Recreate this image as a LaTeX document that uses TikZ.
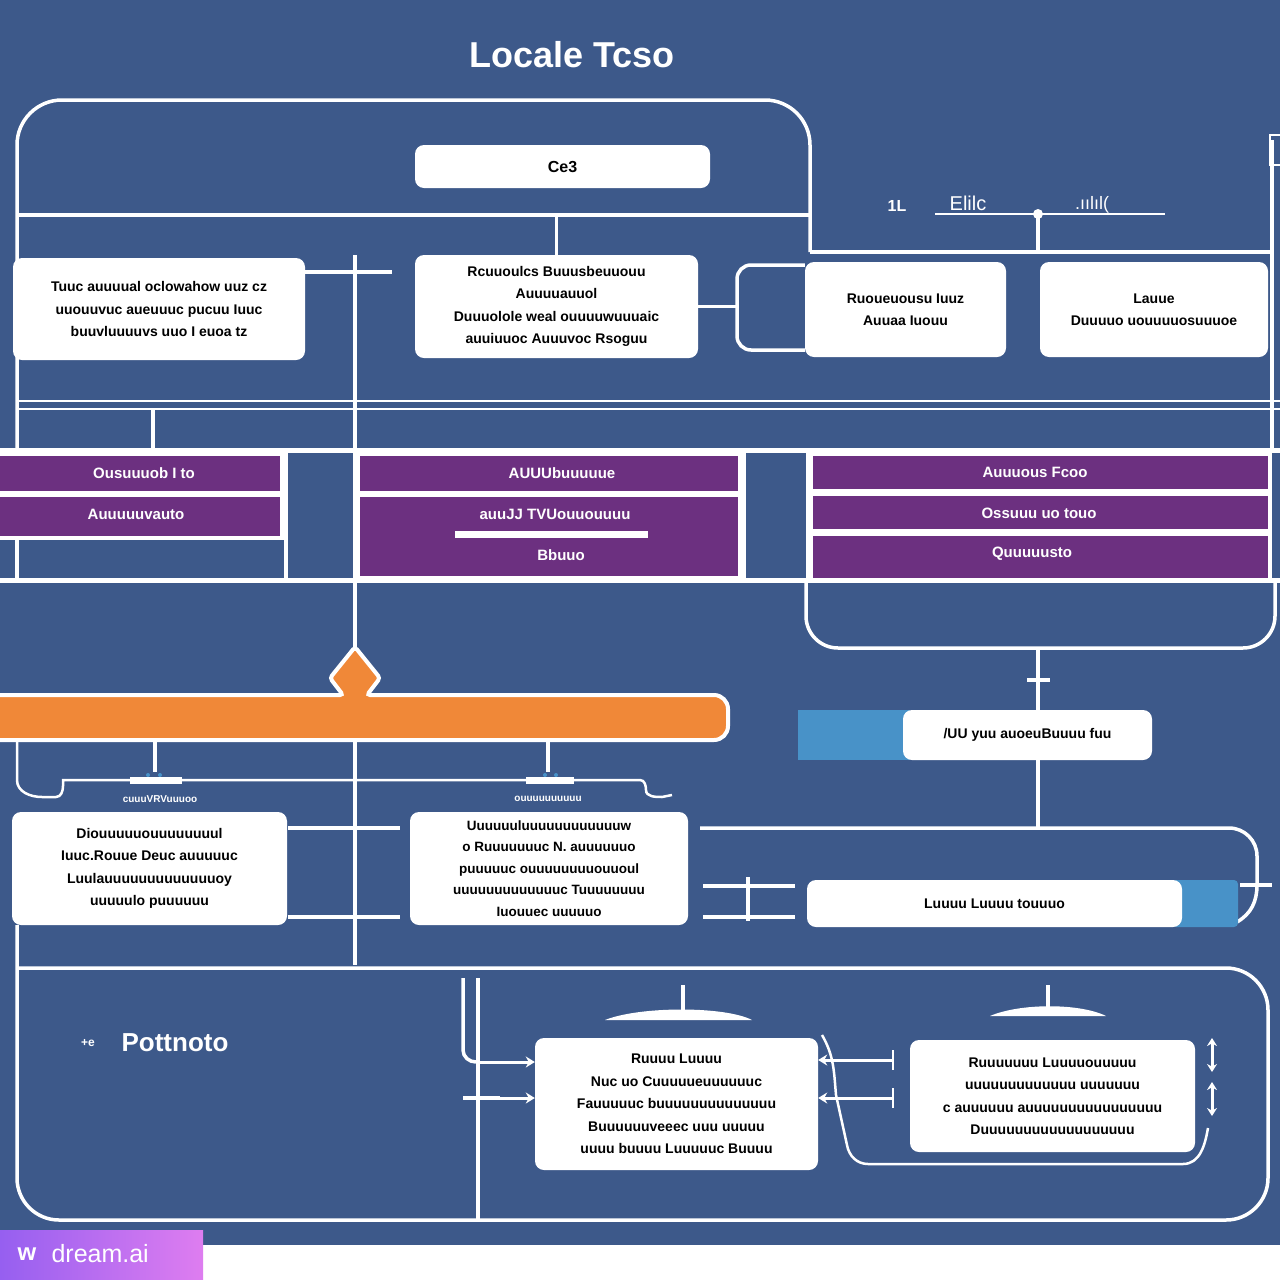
\documentclass[tikz,border=0pt]{standalone}
\usepackage{fontspec}
\setmainfont{Liberation Sans}
\usetikzlibrary{arrows.meta,calc}
\definecolor{bg}{RGB}{61,89,138}
\definecolor{pur}{RGB}{108,48,128}
\definecolor{org}{RGB}{240,136,56}
\definecolor{lblue}{RGB}{72,146,200}
\definecolor{wmA}{RGB}{150,95,240}
\definecolor{wmB}{RGB}{222,125,240}
\begin{document}
\begin{tikzpicture}[x=1pt,y=-1pt,
  wl/.style={draw=white,line width=3.5pt},
  wthin/.style={draw=white,line width=2.5pt},
  wbox/.style={fill=white,rounded corners=9pt,text=black,align=center,inner sep=0pt,
    font=\bfseries\fontsize{14}{22.5}\selectfont},
  pbar/.style={fill=pur,draw=white,line width=4pt},
  ptext/.style={text=white,font=\bfseries\fontsize{15}{16}\selectfont},
  ltext/.style={text=white,font=\bfseries\fontsize{10}{10}\selectfont},
  arr/.style={draw=white,line width=3pt,-{Stealth[length=9pt,width=11pt]}},
  dblarr/.style={draw=white,line width=3pt,{Stealth[length=8pt,width=10pt]}-{Stealth[length=8pt,width=10pt]}}]
\useasboundingbox (0,0) rectangle (1280,1280);
% background
\fill[white] (0,0) rectangle (1280,1280);
\fill[bg] (0,0) rectangle (1280,1245);

% title
\node[text=white,font=\bfseries\fontsize{36}{36}\selectfont] (title) at (572,55) {Locale Tcso};

% ---------- top frame ----------
\draw[wl,rounded corners=45pt] (17,450) -- (17,100) -- (810,100) -- (810,252);
\draw[wl] (17,215) -- (810,215);
\draw[wl] (810,252) -- (1272,252);
\draw[wl] (1272,140) -- (1272,450);
\draw[white,line width=2pt] (1270,135) rectangle (1284,165);

% header text right
\node[text=white,font=\bfseries\fontsize{16}{16}\selectfont] (hA) at (897,206) {1L};
\node[text=white,font=\fontsize{20}{20}\selectfont] (hB) at (968,203) {Elilc};
\node[text=white,font=\fontsize{18}{18}\selectfont] (hC) at (1092,205) {.ıılıl(};
\draw[wthin] (935,214) -- (1165,214);
\coordinate (hj) at (1038,214);
\fill[white] (hj) circle (5pt);
\draw[wl] (hj) -- (1038,252);

% vertical spine
\draw[wl] (355,255) -- (355,650);
\draw[wl] (355,740) -- (355,965);

% double line and grid
\draw[wthin] (17,401) -- (1280,401);
\draw[wthin] (17,409) -- (1280,409);
\draw[wl] (153,409) -- (153,450);
\draw[line width=5pt,white] (0,450) -- (1280,450);

% ---------- purple band ----------
\draw[wl] (286,450) -- (286,580);
\draw[wl] (744,450) -- (744,580);
\draw[wl] (808,450) -- (808,580);
\draw[wl] (17,537) -- (17,580);
\draw[pbar] (-6,454) rectangle (282,493);
\draw[pbar] (-6,495) rectangle (282,538);
\draw[pbar] (358,454) rectangle (740,493);
\draw[pbar] (358,495) rectangle (740,578);
\draw[pbar] (811,454) rectangle (1270,491);
\draw[pbar] (811,494) rectangle (1270,531);
\draw[pbar] (811,534) rectangle (1270,580);
\draw[line width=5pt,white] (0,580) -- (1280,580);
\node[ptext] (p1) at (144,473) {Ousuuuob I to};
\node[ptext] (p2) at (136,514) {Auuuuuvauto};
\node[ptext] (p3) at (562,473) {AUUUbuuuuue};
\node[ptext] (p4) at (555,514) {auuJJ TVUouuouuuu};
\fill[white] (455,531) rectangle (648,538);
\node[ptext] (p5) at (561,555) {Bbuuo};
\node[ptext] (p6) at (1035,472) {Auuuous Fcoo};
\node[ptext] (p7) at (1039,513) {Ossuuu uo touo};
\node[ptext] (p8) at (1032,554) {Quuuuusto};

% right lower bracket
\draw[wl,rounded corners=32pt] (806,580) -- (806,648) -- (1275,648) -- (1275,580);
\draw[wl] (1038,648) -- (1038,712);
\draw[wl] (1027,680) -- (1050,680);

% ---------- orange bar ----------
\draw[white,line width=4pt,fill=org,rounded corners=3pt]
  (-10,695) -- (343,695) -- (330,678) -- (355,647) -- (380,678) -- (367,695)
  [rounded corners=14pt] -- (728,695) -- (728,740) [rounded corners=3pt] -- (-10,740) -- cycle;

% ---------- middle lower ----------
\draw[wl] (155,740) -- (155,772);
\draw[wl] (548,740) -- (548,772);
\fill[lblue] (148,775) circle (2pt) (160,775) circle (2pt) (545,775) circle (2pt) (556,775) circle (2pt);
\draw[wthin] (17,740) -- (17,780) to[out=-90,in=180] (42,797) -- (56,797) to[out=0,in=-90] (63,786) -- (63,780) -- (640,780)
  to[out=0,in=90] (646,790) to[out=-90,in=180] (662,797) -- (672,795);
\fill[white] (130,777) rectangle (182,784);
\fill[white] (526,777) rectangle (574,784);
\node[ltext] (lab1) at (160,799) {cuuuVRVuuuoo};
\node[ltext] (lab2) at (548,799) {ouuuuuuuuuu};

\draw[wl] (288,828) -- (400,828);
\draw[wl] (288,917) -- (400,917);

% blue/white right boxes
\fill[lblue] (798,710) rectangle (910,760);
\node[wbox,minimum width=249pt,minimum height=50pt] (bb) at (1027.5,735) {/UU yuu auoeuBuuuu fuu};
\draw[wl] (bb.south -| 1038,0) -- (1038,828);
\draw[wl,rounded corners=28pt] (700,828) -- (1257,828) -- (1257,885);
\draw[wl] (1257,885) to[out=-90,in=30] (1237,922);
\draw[wl] (1240,885) -- (1272,885);
\fill[lblue,rounded corners=4pt] (1172,880) rectangle (1238,927);
\node[wbox,minimum width=375pt,minimum height=47pt] (cc) at (994.5,903.5) {Luuuu Luuuu touuuo};
\draw[wl] (703,886) -- (795,886);
\draw[wl] (703,917) -- (795,917);
\draw[wl] (748,877) -- (748,921);

% ---------- bottom frame ----------
\draw[wl,rounded corners=42pt] (17,925) -- (17,1220) -- (1268,1220) -- (1268,968) -- (17,968);
\draw[wl] (478,978) -- (478,1220);
\draw[wl] (463,978) -- (463,1050) to[out=-90,in=180] (476,1062);
\draw[wl] (463,1098) -- (500,1098);

\node[text=white,font=\bfseries\fontsize{12}{12}\selectfont] (pp0) at (88,1043) {+e};
\node[text=white,font=\bfseries\fontsize{26}{26}\selectfont] (pp) at (175,1043) {Pottnoto};

\node[wbox,minimum width=283pt,minimum height=132pt] (b1) at (676.5,1104)
  {Ruuuu Luuuu\\ Nuc uo Cuuuuueuuuuuuc\\ Fauuuuuc buuuuuuuuuuuuuu\\ Buuuuuuveeec uuu uuuuu\\ uuuu buuuu Luuuuuc Buuuu};
\draw[white,line width=2.5pt] (822,1035) to[out=-60,in=95] (836,1095) -- (847,1145) to[out=-80,in=180] (868,1164)
  -- (1183,1164) to[out=0,in=-100] (1208,1128);
\node[wbox,minimum width=285pt,minimum height=112pt] (b2) at (1052.5,1096)
  {Ruuuuuuu Luuuuouuuuu\\ uuuuuuuuuuuuu uuuuuuu\\ c auuuuuu auuuuuuuuuuuuuuuu\\ Duuuuuuuuuuuuuuuuuu};

\draw[arr] (478,1062) -- (b1.west |- 0,1062);
\draw[arr] (500,1098) -- (b1.west |- 0,1098);
\draw[arr] (893,1060) -- (b1.east |- 0,1060);
\draw[arr] (893,1098) -- (b1.east |- 0,1098);
\draw[wthin] (893,1050) -- (893,1070);
\draw[wthin] (893,1088) -- (893,1108);
\draw[dblarr] (1212,1038) -- (1212,1072);
\draw[dblarr] (1212,1082) -- (1212,1116);

\draw[wl] (683,985) -- (683,1012);
\fill[white] (605,1020) .. controls (640,1006) and (725,1006) .. (752,1020) -- cycle;
\draw[wl] (1048,985) -- (1048,1008);
\fill[white] (990,1016) .. controls (1020,1003) and (1080,1003) .. (1106,1016) -- cycle;

% ---------- upper boxes ----------
\node[wbox,minimum width=295pt,minimum height=43pt] (ce) at (562.5,166.5) {\fontsize{16}{16}\selectfont Ce3};
\node[wbox,minimum width=292pt,minimum height=102pt] (l1) at (159,309)
  {Tuuc auuuual oclowahow uuz cz\\ uuouuvuc aueuuuc pucuu Iuuc\\ buuvluuuuvs uuo I euoa tz};
\node[wbox,minimum width=283pt,minimum height=103pt] (m1) at (556.5,306.5)
  {Rcuuoulcs Buuusbeuuouu\\ Auuuuauuol\\ Duuuolole weal ouuuuwuuuaic\\ auuiuuoc Auuuvoc Rsoguu};
\node[wbox,minimum width=201pt,minimum height=95pt] (r1) at (905.5,309.5)
  {Ruoueuousu Iuuz\\ Auuaa Iuouu};
\node[wbox,minimum width=228pt,minimum height=95pt] (r2) at (1154,309.5)
  {Lauue\\ Duuuuo uouuuuosuuuoe};
\draw[wl] (m1.north) -- (m1.north |- 0,215);
\draw[wl] (l1.east |- 0,272) -- (392,272);
\draw[wl] (m1.east) -- (737,306.5);
\draw[wl,rounded corners=14pt] (r1.west |- 0,265) -- (737,265) -- (737,350) -- (r1.west |- 0,350);

\node[wbox,minimum width=275pt,minimum height=113pt] (l2) at (149.5,868.5)
  {Diouuuuuouuuuuuuul\\ Iuuc.Rouue Deuc auuuuuc\\ Luulauuuuuuuuuuuuuoy\\ uuuuulo puuuuuu};
\node[wbox,minimum width=278pt,minimum height=113pt,
  font=\bfseries\fontsize{13.5}{21.5}\selectfont] (m2) at (549,868.5)
  {Uuuuuuluuuuuuuuuuuuw\\ o Ruuuuuuuc N. auuuuuuo\\ puuuuuc ouuuuuuuuouuoul\\ uuuuuuuuuuuuuc Tuuuuuuuu\\ Iuouuec uuuuuo};

% ---------- watermark ----------
\shade[left color=wmA,right color=wmB] (0,1230) rectangle (203,1280);
\node[text=white,font=\bfseries\fontsize{24}{24}\selectfont] (wmi) at (27,1254) {w};
\node[text=white,font=\fontsize{25}{25}\selectfont,anchor=west] (wmt) at (48,1254) {dream.ai};
\end{tikzpicture}
\end{document}
